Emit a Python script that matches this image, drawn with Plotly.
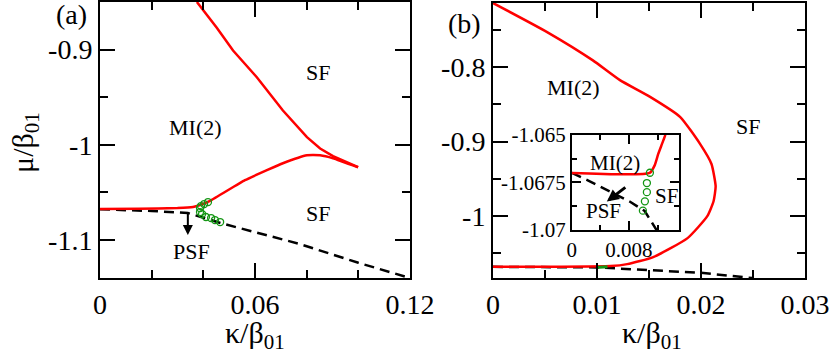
import plotly.graph_objects as go

# ---------------- data: panel (a) ----------------
a_upper_k = [0.0375, 0.0452, 0.0515, 0.0607, 0.0708, 0.0801, 0.0852, 0.0902, 0.0999]
a_upper_mu = [-0.850, -0.877, -0.901, -0.929, -0.964, -0.992, -1.004, -1.012, -1.0236]

a_lower_k = [0.000, 0.015, 0.030, 0.036, 0.0387, 0.0426, 0.0561, 0.0646, 0.0708, 0.0801, 0.0852, 0.0902, 0.0999]
a_lower_mu = [-1.0675, -1.0672, -1.0665, -1.0654, -1.0633, -1.0589, -1.0372, -1.0267, -1.0194, -1.0110, -1.0110, -1.0141, -1.0236]

a_dash_k = [0.000, 0.020, 0.034, 0.047, 0.077, 0.100, 0.120]
a_dash_mu = [-1.0678, -1.0696, -1.0717, -1.0825, -1.104, -1.124, -1.140]

a_circ_k = [0.0418, 0.0403, 0.0391, 0.0387, 0.0387, 0.0395, 0.0410, 0.0430, 0.0445, 0.0465]
a_circ_mu = [-1.0602, -1.0623, -1.0644, -1.0665, -1.0707, -1.0728, -1.0759, -1.0770, -1.0791, -1.0812]

# ---------------- data: panel (b) ----------------
b_red_k = [0.0000, 0.0052, 0.0096, 0.0122, 0.0151, 0.0180, 0.0199, 0.0210, 0.0214, 0.0212, 0.0206,
           0.0187, 0.0154, 0.0129, 0.0113, 0.0060, 0.0000]
b_red_mu = [-0.714, -0.753, -0.791, -0.8175, -0.840, -0.867, -0.903, -0.930, -0.960, -0.980, -1.000,
            -1.0295, -1.055, -1.0644, -1.067, -1.0678, -1.068]

b_dash_k = [0.000, 0.010, 0.015, 0.020, 0.0249]
b_dash_mu = [-1.068, -1.0688, -1.0725, -1.076, -1.083]

b_green_k = [0.0099, 0.0102, 0.0105, 0.0108, 0.0110]
b_green_mu = [-1.0688, -1.0686, -1.0684, -1.0682, -1.0680]

# ---------------- data: inset ----------------
in_red_k = [0.0000, 0.0109, 0.0116, 0.0121, 0.0126, 0.0129, 0.0131]
in_red_mu = [-1.0670, -1.0670, -1.0666, -1.0660, -1.0655, -1.0652, -1.0650]

in_dash_k = [0.0000, 0.0023, 0.0081, 0.0102, 0.0122]
in_dash_mu = [-1.0670, -1.0674, -1.0685, -1.0690, -1.0702]

in_circ_k = [0.01093, 0.01051, 0.01051, 0.01023, 0.00995]
in_circ_mu = [-1.06699, -1.06753, -1.06801, -1.06849, -1.06898]

# ---------------- tick labels ----------------
a_xticks = [0, 0.06, 0.12]
a_xlabels = ["0", "0.06", "0.12"]
a_xminor = [0.02, 0.04, 0.08, 0.10]
a_yticks = [-0.9, -1.0, -1.1]
a_ylabels = ["-0.9", "-1", "-1.1"]
a_yminor = [-0.85, -0.95, -1.05]

b_xticks = [0, 0.01, 0.02, 0.03]
b_xlabels = ["0", "0.01", "0.02", "0.03"]
b_xminor = [0.005, 0.015, 0.025]
b_yticks = [-0.8, -0.9, -1.0]
b_ylabels = ["-0.8", "-0.9", "-1"]
b_yminor = [-0.75, -0.85, -0.95, -1.05]

in_xticks = [0, 0.008]
in_xlabels = ["0", "0.008"]
in_xminor = [0.004, 0.012]
in_yticks = [-1.065, -1.0675, -1.07]
in_ylabels = ["-1.065", "-1.0675", "-1.07"]
in_yminor = [-1.06625, -1.06875]

RED = "rgb(255,0,0)"
GREEN = "rgb(20,150,20)"
FONT = "Liberation Serif"
DASH = "10px,6px"

fig = go.Figure()

# panel (a)
fig.add_trace(go.Scatter(x=a_dash_k, y=a_dash_mu, mode="lines",
                         line=dict(color="black", width=2.5, dash=DASH), xaxis="x", yaxis="y"))
fig.add_trace(go.Scatter(x=a_upper_k, y=a_upper_mu, mode="lines",
                         line=dict(color=RED, width=2.5), xaxis="x", yaxis="y"))
fig.add_trace(go.Scatter(x=a_lower_k, y=a_lower_mu, mode="lines",
                         line=dict(color=RED, width=2.5, shape="spline", smoothing=0.4), xaxis="x", yaxis="y"))
fig.add_trace(go.Scatter(x=a_circ_k, y=a_circ_mu, mode="markers",
                         marker=dict(symbol="circle-open", size=7, color=GREEN, line=dict(width=1.3)),
                         xaxis="x", yaxis="y"))

# panel (b)
fig.add_trace(go.Scatter(x=b_dash_k, y=b_dash_mu, mode="lines",
                         line=dict(color="black", width=2.5, dash=DASH), xaxis="x2", yaxis="y2"))
fig.add_trace(go.Scatter(x=b_red_k, y=b_red_mu, mode="lines",
                         line=dict(color=RED, width=2.5, shape="spline", smoothing=0.5), xaxis="x2", yaxis="y2"))
fig.add_trace(go.Scatter(x=b_green_k, y=b_green_mu, mode="lines",
                         line=dict(color=GREEN, width=3), xaxis="x2", yaxis="y2"))

# inset
fig.add_trace(go.Scatter(x=in_dash_k, y=in_dash_mu, mode="lines",
                         line=dict(color="black", width=2.5, dash=DASH), xaxis="x3", yaxis="y3"))
fig.add_trace(go.Scatter(x=in_red_k, y=in_red_mu, mode="lines",
                         line=dict(color=RED, width=2.5, shape="spline", smoothing=0.5), xaxis="x3", yaxis="y3"))
fig.add_trace(go.Scatter(x=in_circ_k, y=in_circ_mu, mode="markers",
                         marker=dict(symbol="circle-open", size=7, color=GREEN, line=dict(width=1.3)),
                         xaxis="x3", yaxis="y3"))


def axis(domain, rng, tv, tt, minor, anchor, size, tlen, mlen):
    return dict(
        domain=domain, range=rng, anchor=anchor, automargin=False,
        tickmode="array", tickvals=tv, ticktext=tt,
        ticks="inside", ticklen=tlen, tickwidth=2, tickcolor="black",
        showline=True, linewidth=2, linecolor="black", mirror="allticks",
        showgrid=False, zeroline=False,
        tickfont=dict(family=FONT, size=size, color="black"),
        minor=dict(tickmode="array", tickvals=minor, ticks="inside", ticklen=mlen,
                   tickwidth=2, tickcolor="black", showgrid=False),
    )


fig.update_layout(
    width=830, height=355,
    margin=dict(l=0, r=0, t=0, b=0, autoexpand=False),
    font=dict(family=FONT, color="black"),
    paper_bgcolor="white", plot_bgcolor="white",
    showlegend=False,
    xaxis=axis([0.1205, 0.494], [0, 0.12], a_xticks, a_xlabels, a_xminor, "y", 28, 15, 8),
    yaxis=axis([0.2169, 0.9944], [-1.14, -0.85], a_yticks, a_ylabels, a_yminor, "x", 28, 15, 8),
    xaxis2=axis([0.594, 0.970], [0, 0.03], b_xticks, b_xlabels, b_xminor, "y2", 28, 15, 8),
    yaxis2=axis([0.2169, 0.9915], [-1.083, -0.714], b_yticks, b_ylabels, b_yminor, "x2", 28, 15, 8),
    xaxis3=axis([0.689, 0.818], [0, 0.015], in_xticks, in_xlabels, in_xminor, "y3", 21, 9, 5),
    yaxis3=axis([0.352, 0.620], [-1.07, -1.065], in_yticks, in_ylabels, in_yminor, "x3", 21, 9, 5),
)

ann = []
def txt(x, y, s, xref, yref, size=22, angle=0):
    ann.append(dict(x=x, y=y, xref=xref, yref=yref, text=s, showarrow=False,
                    xanchor="center", yanchor="middle", textangle=angle,
                    font=dict(family=FONT, size=size, color="black")))

# panel (a) labels
txt(0.0845, -0.924, "SF", "x", "y")
txt(0.0368, -0.982, "MI(2)", "x", "y")
txt(0.0845, -1.072, "SF", "x", "y")
txt(0.0356, -1.1126, "PSF", "x", "y")
# panel (b) labels
txt(0.0077, -0.828, "MI(2)", "x2", "y2")
txt(0.0245, -0.880, "SF", "x2", "y2")
# inset labels
txt(0.0060, -1.0665, "MI(2)", "x3", "y3", 21)
txt(0.0132, -1.0682, "SF", "x3", "y3", 21)
txt(0.0044, -1.0690, "PSF", "x3", "y3", 21)
# panel tags
txt(0.0867, 0.958, "(a)", "paper", "paper", 28)
txt(0.560, 0.935, "(b)", "paper", "paper", 28)
# axis titles
txt(0.307, 0.056, "κ/β<sub>01</sub>", "paper", "paper", 30)
txt(0.785, 0.056, "κ/β<sub>01</sub>", "paper", "paper", 30)
txt(0.030, 0.60, "μ/β<sub>01</sub>", "paper", "paper", 30, -90)

# arrows
ann.append(dict(x=0.034, y=-1.0948, ax=0.034, ay=-1.0696, xref="x", yref="y", axref="x", ayref="y",
                text="", showarrow=True, arrowhead=2, arrowsize=1, arrowwidth=2, arrowcolor="black"))
ann.append(dict(x=0.0049, y=-1.0685, ax=0.0077, ay=-1.0677, xref="x3", yref="y3", axref="x3", ayref="y3",
                text="", showarrow=True, arrowhead=2, arrowsize=0.8, arrowwidth=3, arrowcolor="black"))

fig.update_layout(annotations=ann)
fig.write_html("out.html", config={"displayModeBar": False},
               post_script="document.body.style.margin='0px';")
